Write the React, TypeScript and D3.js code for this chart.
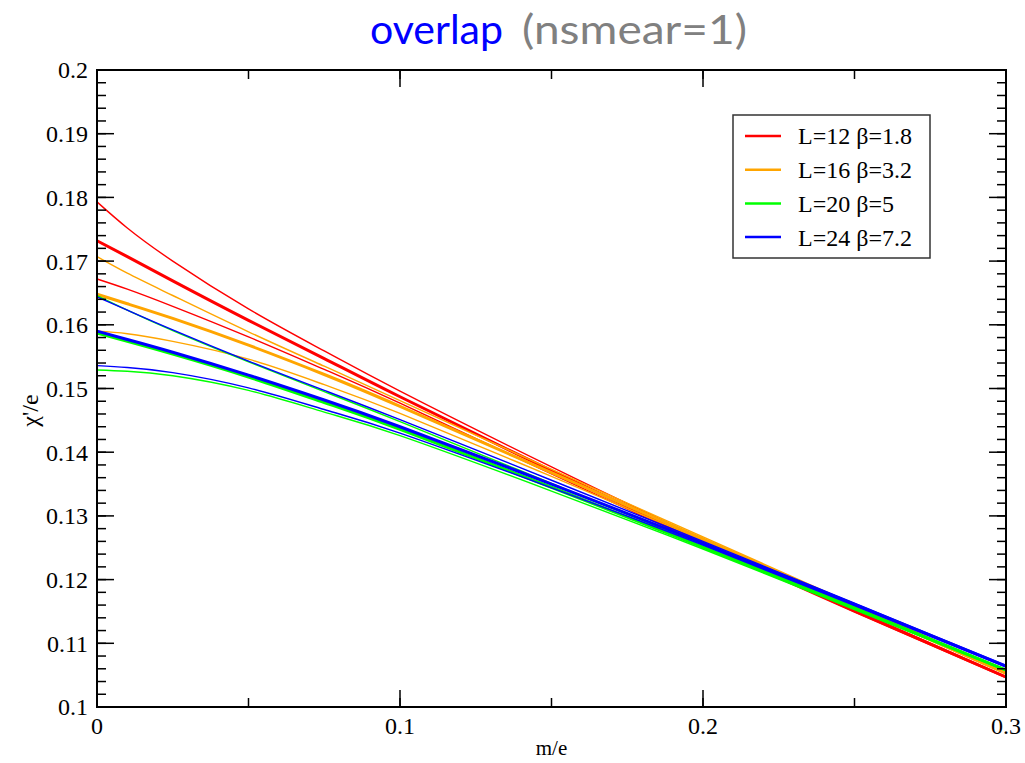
import React from "react";
import * as d3 from "d3";

const mValues = [0, 0.01, 0.025, 0.05, 0.075, 0.1, 0.15, 0.2, 0.25, 0.3];

const redUpper = [0.1793, 0.1752, 0.17, 0.1625, 0.1559, 0.1496, 0.1377, 0.1263, 0.1153, 0.1048];
const redCenter = [0.1732, 0.1707, 0.1669, 0.1607, 0.1547, 0.1487, 0.1371, 0.1259, 0.1151, 0.1047];
const redLower = [0.1672, 0.1656, 0.1629, 0.1581, 0.153, 0.1477, 0.1366, 0.1256, 0.1149, 0.1046];

const orangeUpper = [0.1707, 0.1681, 0.1646, 0.1589, 0.1535, 0.1481, 0.1373, 0.1267, 0.1161, 0.1054];
const orangeCenter = [0.1648, 0.1633, 0.161, 0.1568, 0.1522, 0.1472, 0.1368, 0.1264, 0.1159, 0.1053];
const orangeLower = [0.159, 0.1586, 0.1574, 0.1546, 0.1506, 0.1461, 0.1362, 0.1261, 0.1157, 0.1052];

const greenUpper = [0.1646, 0.1623, 0.1591, 0.1542, 0.1495, 0.1448, 0.1351, 0.1254, 0.1157, 0.1059];
const greenCenter = [0.1587, 0.1574, 0.1554, 0.1518, 0.1478, 0.1436, 0.1345, 0.1251, 0.1155, 0.1058];
const greenLower = [0.1529, 0.1527, 0.152, 0.1497, 0.1463, 0.1426, 0.1339, 0.1248, 0.1153, 0.1057];

const blueUpper = [0.1644, 0.1623, 0.1592, 0.1543, 0.1497, 0.1451, 0.1356, 0.126, 0.1163, 0.1065];
const blueCenter = [0.159, 0.1577, 0.1557, 0.1521, 0.1482, 0.144, 0.135, 0.1257, 0.1161, 0.1064];
const blueLower = [0.1536, 0.1533, 0.1525, 0.1501, 0.1467, 0.143, 0.1344, 0.1254, 0.1159, 0.1063];

const seriesNames = ["L=12 \u03b2=1.8", "L=16 \u03b2=3.2", "L=20 \u03b2=5", "L=24 \u03b2=7.2"];
const seriesColors = ["#ff0000", "#ffa500", "#00ff00", "#0000ff"];
const seriesBands = [
  [redUpper, redCenter, redLower],
  [orangeUpper, orangeCenter, orangeLower],
  [greenUpper, greenCenter, greenLower],
  [blueUpper, blueCenter, blueLower],
];

const xTickValues = [0, 0.1, 0.2, 0.3];
const xTickLabels = ["0", "0.1", "0.2", "0.3"];
const yTickValues = [0.1, 0.11, 0.12, 0.13, 0.14, 0.15, 0.16, 0.17, 0.18, 0.19, 0.2];
const yTickLabels = ["0.1", "0.11", "0.12", "0.13", "0.14", "0.15", "0.16", "0.17", "0.18", "0.19", "0.2"];

const W = 1025;
const H = 763;
const L = 97;
const R = 1006;
const T = 70;
const B = 707;

export default function App() {
  const x = d3.scaleLinear().domain([0, 0.3]).range([L, R]);
  const y = d3.scaleLinear().domain([0.1, 0.2]).range([B, T]);
  const line = d3
    .line<number>()
    .x((_, i) => x(mValues[i]))
    .y((d) => y(d))
    .curve(d3.curveNatural);

  const xMinor = d3.range(0, 7).map((i) => i * 0.05);
  const yMinor = d3.range(0, 51).map((i) => 0.1 + i * 0.002);
  const serif = "'Liberation Serif', 'Times New Roman', serif";
  const major = 17;
  const minor = 9;

  return (
    <svg
      width={W}
      height={H}
      style={{ position: "absolute", left: 0, top: 0, background: "#fff" }}
    >
      <rect x={0} y={0} width={W} height={H} fill="#fff" />
      <text
        x={370}
        y={44}
        style={{ fontFamily: "Lato", fontSize: 40 }}
        fill="#0000ff"
        textLength={133}
        lengthAdjust="spacingAndGlyphs"
      >
        overlap
      </text>
      <text
        x={522}
        y={44}
        style={{ fontFamily: "Lato", fontSize: 40 }}
        fill="#808080"
        textLength={225}
        lengthAdjust="spacingAndGlyphs"
      >
        (nsmear=1)
      </text>

      <defs>
        <clipPath id="plotclip">
          <rect x={L - 2} y={T} width={R - L + 2} height={B - T} />
        </clipPath>
      </defs>
      <g clipPath="url(#plotclip)">
        {seriesBands.map((band, si) => (
          <g key={si}>
            {band.map((vals, bi) => (
              <path
                key={bi}
                d={line(vals) || ""}
                fill="none"
                stroke={seriesColors[si]}
                strokeWidth={bi === 1 ? 3 : 1.4}
              />
            ))}
          </g>
        ))}
      </g>

      {xMinor.map((v, i) => (
        <g key={"xm" + i}>
          <line x1={x(v)} x2={x(v)} y1={B} y2={B - minor} stroke="#000" strokeWidth={1.5} />
          <line x1={x(v)} x2={x(v)} y1={T} y2={T + minor} stroke="#000" strokeWidth={1.5} />
        </g>
      ))}
      {yMinor.map((v, i) => (
        <g key={"ym" + i}>
          <line x1={L} x2={L + minor} y1={y(v)} y2={y(v)} stroke="#000" strokeWidth={1.5} />
          <line x1={R} x2={R - minor} y1={y(v)} y2={y(v)} stroke="#000" strokeWidth={1.5} />
        </g>
      ))}
      {xTickValues.map((v, i) => (
        <g key={"xt" + i}>
          <line x1={x(v)} x2={x(v)} y1={B} y2={B - major} stroke="#000" strokeWidth={1.5} />
          <line x1={x(v)} x2={x(v)} y1={T} y2={T + major} stroke="#000" strokeWidth={1.5} />
          <text
            x={x(v)}
            y={B + 27}
            textAnchor="middle"
            style={{ fontFamily: serif, fontSize: 24 }}
            fill="#000"
          >
            {xTickLabels[i]}
          </text>
        </g>
      ))}
      {yTickValues.map((v, i) => (
        <g key={"yt" + i}>
          <line x1={L} x2={L + major} y1={y(v)} y2={y(v)} stroke="#000" strokeWidth={1.5} />
          <line x1={R} x2={R - major} y1={y(v)} y2={y(v)} stroke="#000" strokeWidth={1.5} />
          <text
            x={L - 9}
            y={y(v)}
            dy="0.35em"
            textAnchor="end"
            style={{ fontFamily: serif, fontSize: 24 }}
            fill="#000"
          >
            {yTickLabels[i]}
          </text>
        </g>
      ))}

      <rect x={L} y={T} width={R - L} height={B - T} fill="none" stroke="#000" strokeWidth={2} />

      <text
        x={(L + R) / 2}
        y={755}
        textAnchor="middle"
        style={{ fontFamily: serif, fontSize: 21 }}
        fill="#000"
      >
        m/e
      </text>
      <text
        transform={`translate(38, ${(T + B) / 2 + 22}) rotate(-90)`}
        textAnchor="middle"
        style={{ fontFamily: serif, fontSize: 24 }}
        fill="#000"
      >
        {"\u03c7'/e"}
      </text>

      <rect x={733} y={115} width={197} height={143} fill="#fff" stroke="#333" strokeWidth={1.5} />
      {seriesNames.map((name, i) => (
        <g key={"lg" + i}>
          <line
            x1={745}
            x2={781}
            y1={136 + i * 33.7}
            y2={136 + i * 33.7}
            stroke={seriesColors[i]}
            strokeWidth={2.5}
          />
          <text
            x={798}
            y={136 + i * 33.7}
            dy="0.35em"
            style={{ fontFamily: serif, fontSize: 24 }}
            fill="#000"
          >
            {name}
          </text>
        </g>
      ))}
    </svg>
  );
}
